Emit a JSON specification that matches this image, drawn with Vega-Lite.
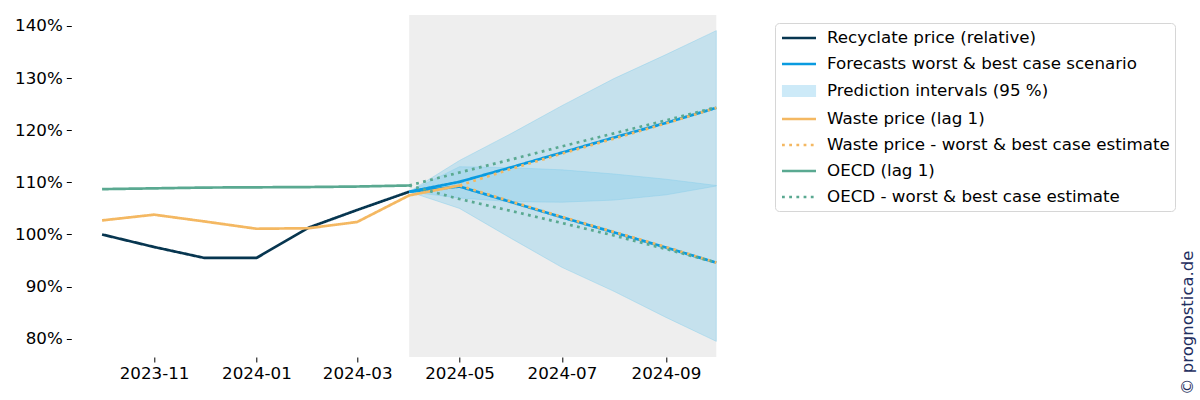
{
  "$schema": "https://vega.github.io/schema/vega-lite/v6.json",
  "width": 675.7,
  "height": 342,
  "autosize": {"type": "none"},
  "padding": {"left": 71.3, "top": 15, "right": 453, "bottom": 43},
  "background": "white",
  "config": {
    "view": {"stroke": null},
    "font": "DejaVu Sans",
    "axis": {
      "labelFont": "DejaVu Sans",
      "labelFontSize": 16.7,
      "labelColor": "#000000",
      "tickColor": "#000000",
      "tickSize": 5,
      "tickWidth": 1,
      "domain": false,
      "grid": false,
      "title": null
    },
    "legend": {
      "title": null,
      "orient": "none",
      "legendX": 703.7,
      "legendY": 8,
      "padding": 5,
      "symbolType": "M-2,0H2",
      "symbolSize": 289,
      "symbolStrokeWidth": 2.7,
      "symbolOffset": 9,
      "labelOffset": 18,
      "rowPadding": 7,
      "labelFont": "DejaVu Sans",
      "labelFontSize": 16.7,
      "labelColor": "#000000",
      "labelLimit": 600,
      "strokeColor": "#d6d6d6",
      "fillColor": "#ffffff",
      "cornerRadius": 4
    }
  },
  "title": {
    "text": "© prognostica.de",
    "orient": "right",
    "anchor": "end",
    "frame": "group",
    "angle": 270,
    "align": "left",
    "baseline": "middle",
    "offset": -4,
    "dx": -38,
    "font": "DejaVu Sans",
    "fontSize": 16.5,
    "fontWeight": "normal",
    "color": "#1f2f5f"
  },
  "datasets": {
    "span": [{"start": "2024-04-01T00:00:00", "end": "2024-10-01T00:00:00"}],
    "bands": [
      {"s": "Prediction intervals (95 %)", "b": "best", "d": "2024-04-01T00:00:00", "lo": 108.2, "hi": 108.2},
      {"s": "Prediction intervals (95 %)", "b": "best", "d": "2024-05-01T00:00:00", "lo": 107.0, "hi": 114.2},
      {"s": "Prediction intervals (95 %)", "b": "best", "d": "2024-06-01T00:00:00", "lo": 106.3, "hi": 119.4},
      {"s": "Prediction intervals (95 %)", "b": "best", "d": "2024-07-01T00:00:00", "lo": 106.2, "hi": 124.7},
      {"s": "Prediction intervals (95 %)", "b": "best", "d": "2024-08-01T00:00:00", "lo": 106.6, "hi": 129.9},
      {"s": "Prediction intervals (95 %)", "b": "best", "d": "2024-09-01T00:00:00", "lo": 107.6, "hi": 134.5},
      {"s": "Prediction intervals (95 %)", "b": "best", "d": "2024-10-01T00:00:00", "lo": 109.3, "hi": 139.1},
      {"s": "Prediction intervals (95 %)", "b": "worst", "d": "2024-04-01T00:00:00", "lo": 108.2, "hi": 108.2},
      {"s": "Prediction intervals (95 %)", "b": "worst", "d": "2024-05-01T00:00:00", "lo": 105.0, "hi": 113.0},
      {"s": "Prediction intervals (95 %)", "b": "worst", "d": "2024-06-01T00:00:00", "lo": 99.2, "hi": 112.8},
      {"s": "Prediction intervals (95 %)", "b": "worst", "d": "2024-07-01T00:00:00", "lo": 93.7, "hi": 112.4},
      {"s": "Prediction intervals (95 %)", "b": "worst", "d": "2024-08-01T00:00:00", "lo": 89.1, "hi": 111.6},
      {"s": "Prediction intervals (95 %)", "b": "worst", "d": "2024-09-01T00:00:00", "lo": 84.1, "hi": 110.6},
      {"s": "Prediction intervals (95 %)", "b": "worst", "d": "2024-10-01T00:00:00", "lo": 79.5, "hi": 109.4}
    ],
    "lines": [
      {"s": "Recyclate price (relative)", "b": "a", "d": "2023-10-01T00:00:00", "v": 100.0},
      {"s": "Recyclate price (relative)", "b": "a", "d": "2023-11-01T00:00:00", "v": 97.6},
      {"s": "Recyclate price (relative)", "b": "a", "d": "2023-12-01T00:00:00", "v": 95.5},
      {"s": "Recyclate price (relative)", "b": "a", "d": "2024-01-01T00:00:00", "v": 95.5},
      {"s": "Recyclate price (relative)", "b": "a", "d": "2024-02-01T00:00:00", "v": 101.3},
      {"s": "Recyclate price (relative)", "b": "a", "d": "2024-03-01T00:00:00", "v": 104.7},
      {"s": "Recyclate price (relative)", "b": "a", "d": "2024-04-01T00:00:00", "v": 108.2},
      {"s": "Forecasts worst & best case scenario", "b": "best", "d": "2024-04-01T00:00:00", "v": 108.2},
      {"s": "Forecasts worst & best case scenario", "b": "best", "d": "2024-05-01T00:00:00", "v": 110.1},
      {"s": "Forecasts worst & best case scenario", "b": "best", "d": "2024-06-01T00:00:00", "v": 112.9},
      {"s": "Forecasts worst & best case scenario", "b": "best", "d": "2024-07-01T00:00:00", "v": 115.7},
      {"s": "Forecasts worst & best case scenario", "b": "best", "d": "2024-08-01T00:00:00", "v": 118.6},
      {"s": "Forecasts worst & best case scenario", "b": "best", "d": "2024-09-01T00:00:00", "v": 121.4},
      {"s": "Forecasts worst & best case scenario", "b": "best", "d": "2024-10-01T00:00:00", "v": 124.3},
      {"s": "Forecasts worst & best case scenario", "b": "worst", "d": "2024-04-01T00:00:00", "v": 108.2},
      {"s": "Forecasts worst & best case scenario", "b": "worst", "d": "2024-05-01T00:00:00", "v": 109.2},
      {"s": "Forecasts worst & best case scenario", "b": "worst", "d": "2024-06-01T00:00:00", "v": 106.2},
      {"s": "Forecasts worst & best case scenario", "b": "worst", "d": "2024-07-01T00:00:00", "v": 103.3},
      {"s": "Forecasts worst & best case scenario", "b": "worst", "d": "2024-08-01T00:00:00", "v": 100.4},
      {"s": "Forecasts worst & best case scenario", "b": "worst", "d": "2024-09-01T00:00:00", "v": 97.5},
      {"s": "Forecasts worst & best case scenario", "b": "worst", "d": "2024-10-01T00:00:00", "v": 94.6},
      {"s": "Waste price (lag 1)", "b": "a", "d": "2023-10-01T00:00:00", "v": 102.7},
      {"s": "Waste price (lag 1)", "b": "a", "d": "2023-11-01T00:00:00", "v": 103.8},
      {"s": "Waste price (lag 1)", "b": "a", "d": "2023-12-01T00:00:00", "v": 102.5},
      {"s": "Waste price (lag 1)", "b": "a", "d": "2024-01-01T00:00:00", "v": 101.1},
      {"s": "Waste price (lag 1)", "b": "a", "d": "2024-02-01T00:00:00", "v": 101.2},
      {"s": "Waste price (lag 1)", "b": "a", "d": "2024-03-01T00:00:00", "v": 102.4},
      {"s": "Waste price (lag 1)", "b": "a", "d": "2024-04-01T00:00:00", "v": 107.5},
      {"s": "Waste price (lag 1)", "b": "a", "d": "2024-05-01T00:00:00", "v": 109.4},
      {"s": "Waste price - worst & best case estimate", "b": "best", "d": "2024-05-01T00:00:00", "v": 109.4},
      {"s": "Waste price - worst & best case estimate", "b": "best", "d": "2024-06-01T00:00:00", "v": 112.6},
      {"s": "Waste price - worst & best case estimate", "b": "best", "d": "2024-07-01T00:00:00", "v": 115.5},
      {"s": "Waste price - worst & best case estimate", "b": "best", "d": "2024-08-01T00:00:00", "v": 118.4},
      {"s": "Waste price - worst & best case estimate", "b": "best", "d": "2024-09-01T00:00:00", "v": 121.3},
      {"s": "Waste price - worst & best case estimate", "b": "best", "d": "2024-10-01T00:00:00", "v": 124.3},
      {"s": "Waste price - worst & best case estimate", "b": "worst", "d": "2024-05-01T00:00:00", "v": 109.4},
      {"s": "Waste price - worst & best case estimate", "b": "worst", "d": "2024-06-01T00:00:00", "v": 106.3},
      {"s": "Waste price - worst & best case estimate", "b": "worst", "d": "2024-07-01T00:00:00", "v": 103.4},
      {"s": "Waste price - worst & best case estimate", "b": "worst", "d": "2024-08-01T00:00:00", "v": 100.5},
      {"s": "Waste price - worst & best case estimate", "b": "worst", "d": "2024-09-01T00:00:00", "v": 97.6},
      {"s": "Waste price - worst & best case estimate", "b": "worst", "d": "2024-10-01T00:00:00", "v": 94.6},
      {"s": "OECD (lag 1)", "b": "a", "d": "2023-10-01T00:00:00", "v": 108.7},
      {"s": "OECD (lag 1)", "b": "a", "d": "2023-11-01T00:00:00", "v": 108.85},
      {"s": "OECD (lag 1)", "b": "a", "d": "2023-12-01T00:00:00", "v": 109.0},
      {"s": "OECD (lag 1)", "b": "a", "d": "2024-01-01T00:00:00", "v": 109.05},
      {"s": "OECD (lag 1)", "b": "a", "d": "2024-02-01T00:00:00", "v": 109.1},
      {"s": "OECD (lag 1)", "b": "a", "d": "2024-03-01T00:00:00", "v": 109.2},
      {"s": "OECD (lag 1)", "b": "a", "d": "2024-04-01T00:00:00", "v": 109.4},
      {"s": "OECD - worst & best case estimate", "b": "best", "d": "2024-04-01T00:00:00", "v": 109.4},
      {"s": "OECD - worst & best case estimate", "b": "best", "d": "2024-05-01T00:00:00", "v": 111.9},
      {"s": "OECD - worst & best case estimate", "b": "best", "d": "2024-06-01T00:00:00", "v": 114.4},
      {"s": "OECD - worst & best case estimate", "b": "best", "d": "2024-07-01T00:00:00", "v": 116.9},
      {"s": "OECD - worst & best case estimate", "b": "best", "d": "2024-08-01T00:00:00", "v": 119.4},
      {"s": "OECD - worst & best case estimate", "b": "best", "d": "2024-09-01T00:00:00", "v": 121.9},
      {"s": "OECD - worst & best case estimate", "b": "best", "d": "2024-10-01T00:00:00", "v": 124.4},
      {"s": "OECD - worst & best case estimate", "b": "worst", "d": "2024-04-01T00:00:00", "v": 109.4},
      {"s": "OECD - worst & best case estimate", "b": "worst", "d": "2024-05-01T00:00:00", "v": 106.8},
      {"s": "OECD - worst & best case estimate", "b": "worst", "d": "2024-06-01T00:00:00", "v": 104.5},
      {"s": "OECD - worst & best case estimate", "b": "worst", "d": "2024-07-01T00:00:00", "v": 102.2},
      {"s": "OECD - worst & best case estimate", "b": "worst", "d": "2024-08-01T00:00:00", "v": 99.8},
      {"s": "OECD - worst & best case estimate", "b": "worst", "d": "2024-09-01T00:00:00", "v": 97.2},
      {"s": "OECD - worst & best case estimate", "b": "worst", "d": "2024-10-01T00:00:00", "v": 94.6}
    ]
  },
  "layer": [
    {
      "data": {"name": "span"},
      "mark": {"type": "rect", "color": "#eeeeee"},
      "encoding": {
        "x": {
          "field": "start",
          "type": "temporal",
          "scale": {"domain": [{"year": 2023, "month": 9, "date": 12, "hours": 16}, {"year": 2024, "month": 10, "date": 19, "hours": 7}]},
          "axis": {
            "values": [
              {"year": 2023, "month": 11, "date": 1},
              {"year": 2024, "month": 1, "date": 1},
              {"year": 2024, "month": 3, "date": 1},
              {"year": 2024, "month": 5, "date": 1},
              {"year": 2024, "month": 7, "date": 1},
              {"year": 2024, "month": 9, "date": 1}
            ],
            "format": "%Y-%m",
            "labelPadding": 3,
            "labelFlush": false,
            "labelOverlap": false
          }
        },
        "x2": {"field": "end"}
      }
    },
    {
      "data": {"name": "bands"},
      "mark": {"type": "area", "fill": "#87ceeb", "fillOpacity": 0.4, "stroke": "#87ceeb", "strokeOpacity": 0.45, "strokeWidth": 1},
      "encoding": {
        "x": {"field": "d", "type": "temporal"},
        "y": {
          "field": "lo",
          "type": "quantitative",
          "scale": {"domain": [76.5, 142.1], "nice": false, "zero": false},
          "axis": {"values": [80, 90, 100, 110, 120, 130, 140], "labelExpr": "datum.value + '%'", "labelPadding": 4}
        },
        "y2": {"field": "hi"},
        "detail": {"field": "b"}
      }
    },
    {
      "data": {"values": []},
      "mark": {"type": "point", "filled": true, "opacity": 1},
      "encoding": {
        "color": {
          "field": "s",
          "type": "nominal",
          "scale": {
            "domain": ["Recyclate price (relative)", "Forecasts worst & best case scenario", "Prediction intervals (95 %)", "Waste price (lag 1)", "Waste price - worst & best case estimate", "OECD (lag 1)", "OECD - worst & best case estimate"],
            "range": ["#073650", "#0a9be0", "#cdeaf8", "#f4b862", "#f4b862", "#5aa991", "#5aa991"]
          }
        },
        "shape": {
          "field": "s",
          "type": "nominal",
          "scale": {
            "domain": ["Recyclate price (relative)", "Forecasts worst & best case scenario", "Prediction intervals (95 %)", "Waste price (lag 1)", "Waste price - worst & best case estimate", "OECD (lag 1)", "OECD - worst & best case estimate"],
            "range": ["M-2,0H2", "M-2,0H2", "M-1.85,-0.55H1.85V0.55H-1.85Z", "M-2,0H2", "M-2,0H2", "M-2,0H2", "M-2,0H2"]
          }
        }
      }
    },
    {
      "data": {"name": "lines"},
      "transform": [{"filter": {"field": "s", "oneOf": ["Recyclate price (relative)", "Forecasts worst & best case scenario", "Waste price (lag 1)", "OECD (lag 1)"]}}],
      "mark": {"type": "line", "strokeWidth": 2.7},
      "encoding": {
        "x": {"field": "d", "type": "temporal"},
        "y": {"field": "v", "type": "quantitative"},
        "detail": {"field": "b"},
        "color": {"field": "s", "type": "nominal"},
        "strokeDash": {
          "field": "s",
          "type": "nominal",
          "scale": {
            "domain": ["Recyclate price (relative)", "Forecasts worst & best case scenario", "Prediction intervals (95 %)", "Waste price (lag 1)", "Waste price - worst & best case estimate", "OECD (lag 1)", "OECD - worst & best case estimate"],
            "range": [[1, 0], [1, 0], [1, 0], [1, 0], [2.8, 4.4], [1, 0], [2.8, 4.4]]
          }
        }
      }
    },
    {
      "data": {"name": "lines"},
      "transform": [{"filter": {"field": "s", "oneOf": ["Waste price - worst & best case estimate", "OECD - worst & best case estimate"]}}],
      "mark": {"type": "line", "strokeWidth": 2.7},
      "encoding": {
        "x": {"field": "d", "type": "temporal"},
        "y": {"field": "v", "type": "quantitative"},
        "detail": {"field": "b"},
        "color": {"field": "s", "type": "nominal"},
        "strokeDash": {"field": "s", "type": "nominal"}
      }
    }
  ]
}
